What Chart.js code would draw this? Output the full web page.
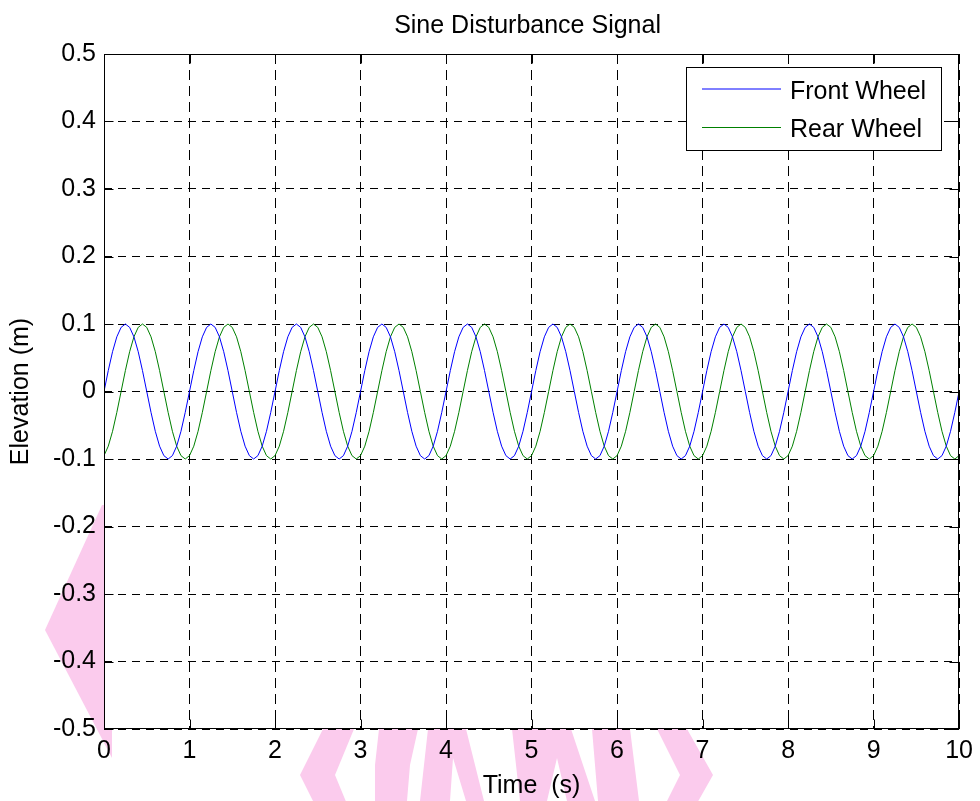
<!DOCTYPE html>
<html>
<head>
<meta charset="utf-8">
<title>Sine Disturbance Signal</title>
<script src="https://cdn.jsdelivr.net/npm/chart.js@4.4.1/dist/chart.umd.min.js"></script>
<style>
    html, body { margin: 0; padding: 0; background: #fff; }
    #wrap { width: 980px; height: 801px; position: relative; }
</style>
</head>
<body>
<div id="wrap"><canvas id="sineChart"></canvas></div>
<script>
// Sample times (s)
const time = [
    0, 0.05, 0.1, 0.15, 0.2, 0.25, 0.3, 0.35, 0.4, 0.45, 0.5, 0.55, 0.6, 0.65, 0.7, 0.75, 0.8, 0.85, 0.9, 0.95,
    1, 1.05, 1.1, 1.15, 1.2, 1.25, 1.3, 1.35, 1.4, 1.45, 1.5, 1.55, 1.6, 1.65, 1.7, 1.75, 1.8, 1.85, 1.9, 1.95,
    2, 2.05, 2.1, 2.15, 2.2, 2.25, 2.3, 2.35, 2.4, 2.45, 2.5, 2.55, 2.6, 2.65, 2.7, 2.75, 2.8, 2.85, 2.9, 2.95,
    3, 3.05, 3.1, 3.15, 3.2, 3.25, 3.3, 3.35, 3.4, 3.45, 3.5, 3.55, 3.6, 3.65, 3.7, 3.75, 3.8, 3.85, 3.9, 3.95,
    4, 4.05, 4.1, 4.15, 4.2, 4.25, 4.3, 4.35, 4.4, 4.45, 4.5, 4.55, 4.6, 4.65, 4.7, 4.75, 4.8, 4.85, 4.9, 4.95,
    5, 5.05, 5.1, 5.15, 5.2, 5.25, 5.3, 5.35, 5.4, 5.45, 5.5, 5.55, 5.6, 5.65, 5.7, 5.75, 5.8, 5.85, 5.9, 5.95,
    6, 6.05, 6.1, 6.15, 6.2, 6.25, 6.3, 6.35, 6.4, 6.45, 6.5, 6.55, 6.6, 6.65, 6.7, 6.75, 6.8, 6.85, 6.9, 6.95,
    7, 7.05, 7.1, 7.15, 7.2, 7.25, 7.3, 7.35, 7.4, 7.45, 7.5, 7.55, 7.6, 7.65, 7.7, 7.75, 7.8, 7.85, 7.9, 7.95,
    8, 8.05, 8.1, 8.15, 8.2, 8.25, 8.3, 8.35, 8.4, 8.45, 8.5, 8.55, 8.6, 8.65, 8.7, 8.75, 8.8, 8.85, 8.9, 8.95,
    9, 9.05, 9.1, 9.15, 9.2, 9.25, 9.3, 9.35, 9.4, 9.45, 9.5, 9.55, 9.6, 9.65, 9.7, 9.75, 9.8, 9.85, 9.9, 9.95,
    10
];

// Front wheel elevation (m)
const frontWheel = [
    0, 0.031, 0.059, 0.081, 0.095, 0.1, 0.095, 0.081, 0.059, 0.031, 0, -0.031, -0.059, -0.081, -0.095, -0.1, -0.095, -0.081, -0.059, -0.031,
    0, 0.031, 0.059, 0.081, 0.095, 0.1, 0.095, 0.081, 0.059, 0.031, 0, -0.031, -0.059, -0.081, -0.095, -0.1, -0.095, -0.081, -0.059, -0.031,
    0, 0.031, 0.059, 0.081, 0.095, 0.1, 0.095, 0.081, 0.059, 0.031, 0, -0.031, -0.059, -0.081, -0.095, -0.1, -0.095, -0.081, -0.059, -0.031,
    0, 0.031, 0.059, 0.081, 0.095, 0.1, 0.095, 0.081, 0.059, 0.031, 0, -0.031, -0.059, -0.081, -0.095, -0.1, -0.095, -0.081, -0.059, -0.031,
    0, 0.031, 0.059, 0.081, 0.095, 0.1, 0.095, 0.081, 0.059, 0.031, 0, -0.031, -0.059, -0.081, -0.095, -0.1, -0.095, -0.081, -0.059, -0.031,
    0, 0.031, 0.059, 0.081, 0.095, 0.1, 0.095, 0.081, 0.059, 0.031, 0, -0.031, -0.059, -0.081, -0.095, -0.1, -0.095, -0.081, -0.059, -0.031,
    0, 0.031, 0.059, 0.081, 0.095, 0.1, 0.095, 0.081, 0.059, 0.031, 0, -0.031, -0.059, -0.081, -0.095, -0.1, -0.095, -0.081, -0.059, -0.031,
    0, 0.031, 0.059, 0.081, 0.095, 0.1, 0.095, 0.081, 0.059, 0.031, 0, -0.031, -0.059, -0.081, -0.095, -0.1, -0.095, -0.081, -0.059, -0.031,
    0, 0.031, 0.059, 0.081, 0.095, 0.1, 0.095, 0.081, 0.059, 0.031, 0, -0.031, -0.059, -0.081, -0.095, -0.1, -0.095, -0.081, -0.059, -0.031,
    0, 0.031, 0.059, 0.081, 0.095, 0.1, 0.095, 0.081, 0.059, 0.031, 0, -0.031, -0.059, -0.081, -0.095, -0.1, -0.095, -0.081, -0.059, -0.031,
    0
];

// Rear wheel elevation (m), same road profile reached a little later
const rearWheel = [
    -0.095, -0.081, -0.059, -0.031, 0, 0.031, 0.059, 0.081, 0.095, 0.1, 0.095, 0.081, 0.059, 0.031, 0, -0.031, -0.059, -0.081, -0.095, -0.1,
    -0.095, -0.081, -0.059, -0.031, 0, 0.031, 0.059, 0.081, 0.095, 0.1, 0.095, 0.081, 0.059, 0.031, 0, -0.031, -0.059, -0.081, -0.095, -0.1,
    -0.095, -0.081, -0.059, -0.031, 0, 0.031, 0.059, 0.081, 0.095, 0.1, 0.095, 0.081, 0.059, 0.031, 0, -0.031, -0.059, -0.081, -0.095, -0.1,
    -0.095, -0.081, -0.059, -0.031, 0, 0.031, 0.059, 0.081, 0.095, 0.1, 0.095, 0.081, 0.059, 0.031, 0, -0.031, -0.059, -0.081, -0.095, -0.1,
    -0.095, -0.081, -0.059, -0.031, 0, 0.031, 0.059, 0.081, 0.095, 0.1, 0.095, 0.081, 0.059, 0.031, 0, -0.031, -0.059, -0.081, -0.095, -0.1,
    -0.095, -0.081, -0.059, -0.031, 0, 0.031, 0.059, 0.081, 0.095, 0.1, 0.095, 0.081, 0.059, 0.031, 0, -0.031, -0.059, -0.081, -0.095, -0.1,
    -0.095, -0.081, -0.059, -0.031, 0, 0.031, 0.059, 0.081, 0.095, 0.1, 0.095, 0.081, 0.059, 0.031, 0, -0.031, -0.059, -0.081, -0.095, -0.1,
    -0.095, -0.081, -0.059, -0.031, 0, 0.031, 0.059, 0.081, 0.095, 0.1, 0.095, 0.081, 0.059, 0.031, 0, -0.031, -0.059, -0.081, -0.095, -0.1,
    -0.095, -0.081, -0.059, -0.031, 0, 0.031, 0.059, 0.081, 0.095, 0.1, 0.095, 0.081, 0.059, 0.031, 0, -0.031, -0.059, -0.081, -0.095, -0.1,
    -0.095, -0.081, -0.059, -0.031, 0, 0.031, 0.059, 0.081, 0.095, 0.1, 0.095, 0.081, 0.059, 0.031, 0, -0.031, -0.059, -0.081, -0.095, -0.1,
    -0.095
];

const seriesNames = ['Front Wheel', 'Rear Wheel'];
const seriesColors = ['#0000ff', '#008000'];
const chartTitle = 'Sine Disturbance Signal';
const xTitle = 'Time  (s)';
const yTitle = 'Elevation (m)';

const FONT = "'Liberation Sans', Arial, Helvetica, sans-serif";
const TICK_LEN = 9;

// pink backdrop shapes, partly hidden behind the white plot area
const backdropShapes = [
    [[102, 505], [45, 630], [112, 758], [112, 505]],
    [[323, 729], [300, 775], [323, 821], [354, 821], [335, 775], [354, 729]],
    [[379, 729], [375, 765], [375, 801], [407, 801], [410, 765], [418, 729]],
    [[428, 729], [420, 801], [450, 801], [453, 758], [466, 801], [484, 801], [466, 729]],
    [[512, 729], [520, 801], [547, 801], [557, 758], [567, 801], [595, 801], [571, 729]],
    [[592, 729], [598, 801], [639, 801], [630, 729]],
    [[657, 729], [680, 775], [657, 821], [687, 821], [713, 775], [687, 729]]
];

const backdrop = {
    id: 'backdrop',
    beforeDraw(chart) {
        const { ctx, chartArea: a } = chart;
        ctx.save();
        ctx.fillStyle = '#fff';
        ctx.fillRect(0, 0, chart.width, chart.height);
        ctx.fillStyle = '#fbcbed';
        backdropShapes.forEach(pts => {
            ctx.beginPath();
            pts.forEach(([px, py], i) => i ? ctx.lineTo(px, py) : ctx.moveTo(px, py));
            ctx.closePath();
            ctx.fill();
        });
        ctx.fillStyle = '#fff';
        ctx.fillRect(a.left, a.top, a.right - a.left, a.bottom - a.top);
        ctx.restore();
    }
};

// axes box, inward tick marks, title and boxed legend
const axesBox = {
    id: 'axesBox',
    afterDraw(chart) {
        const { ctx, chartArea: a, scales: { x, y } } = chart;
        const L = Math.round(a.left) + 0.5, R = Math.round(a.right) - 0.5;
        const T = Math.round(a.top) + 0.5, B = Math.round(a.bottom) - 0.5;
        ctx.save();
        ctx.strokeStyle = '#000';
        ctx.lineWidth = 1;
        ctx.setLineDash([]);
        ctx.strokeRect(L, T, R - L, B - T);

        ctx.beginPath();
        x.ticks.forEach(t => {
            const px = Math.round(x.getPixelForValue(t.value)) + 0.5;
            ctx.moveTo(px, B); ctx.lineTo(px, B - TICK_LEN);
            ctx.moveTo(px, T); ctx.lineTo(px, T + TICK_LEN);
        });
        y.ticks.forEach(t => {
            const py = Math.round(y.getPixelForValue(t.value)) + 0.5;
            ctx.moveTo(L, py); ctx.lineTo(L + TICK_LEN, py);
            ctx.moveTo(R, py); ctx.lineTo(R - TICK_LEN, py);
        });
        ctx.stroke();

        // title
        ctx.fillStyle = '#000';
        ctx.font = '25px ' + FONT;
        ctx.textAlign = 'center';
        ctx.textBaseline = 'alphabetic';
        ctx.fillText(chartTitle, (a.left + a.right) / 2 - 4, 33);

        // legend
        const bx = 686.5, by = 67.5, bw = 255, bh = 83;
        ctx.fillStyle = '#fff';
        ctx.fillRect(bx, by, bw, bh);
        ctx.strokeRect(bx, by, bw, bh);
        ctx.textAlign = 'left';
        chart.data.datasets.forEach((ds, i) => {
            const ly = 89 + i * 38.5;
            ctx.beginPath();
            ctx.strokeStyle = seriesColors[i];
            ctx.lineWidth = 1;
            ctx.moveTo(702, ly);
            ctx.lineTo(781, ly);
            ctx.stroke();
            ctx.fillStyle = '#000';
            ctx.fillText(ds.label, 790, ly + 9.5);
        });
        ctx.restore();
    }
};

const makePoints = values => values.map((v, i) => ({ x: time[i], y: v }));

Chart.defaults.font.family = FONT;
Chart.defaults.color = '#000';

new Chart(document.getElementById('sineChart'), {
    type: 'line',
    data: {
        datasets: [{
            label: seriesNames[0],
            data: makePoints(frontWheel),
            borderColor: seriesColors[0],
            borderWidth: 1,
            pointRadius: 0,
            tension: 0,
            fill: false
        }, {
            label: seriesNames[1],
            data: makePoints(rearWheel),
            borderColor: seriesColors[1],
            borderWidth: 1,
            pointRadius: 0,
            tension: 0,
            fill: false
        }]
    },
    options: {
        responsive: true,
        maintainAspectRatio: false,
        animation: false,
        events: [],
        layout: { padding: { left: 0, right: 19, top: 54, bottom: 0 } },
        plugins: {
            legend: { display: false },
            title: { display: false },
            tooltip: { enabled: false }
        },
        scales: {
            x: {
                type: 'linear',
                min: 0,
                max: 10,
                afterFit: s => { s.height = 72; },
                ticks: { stepSize: 1, padding: 7, font: { size: 25 }, color: '#000', maxRotation: 0, autoSkip: false },
                grid: { color: '#000', lineWidth: 1, drawTicks: false },
                border: { display: false, dash: [10, 6] },
                title: { display: true, text: xTitle, font: { size: 25 }, color: '#000', padding: { top: 0, bottom: 0 } }
            },
            y: {
                type: 'linear',
                min: -0.5,
                max: 0.5,
                afterFit: s => { s.width = 104; },
                ticks: {
                    stepSize: 0.1,
                    padding: 8,
                    font: { size: 25 },
                    color: '#000',
                    autoSkip: false,
                    callback: v => String(Math.round(v * 10) / 10)
                },
                grid: { color: '#000', lineWidth: 1, drawTicks: false },
                border: { display: false, dash: [8, 6] },
                title: { display: true, text: yTitle, font: { size: 25 }, color: '#000', padding: { top: 6, bottom: 0 } }
            }
        }
    },
    plugins: [backdrop, axesBox]
});
</script>
</body>
</html>
